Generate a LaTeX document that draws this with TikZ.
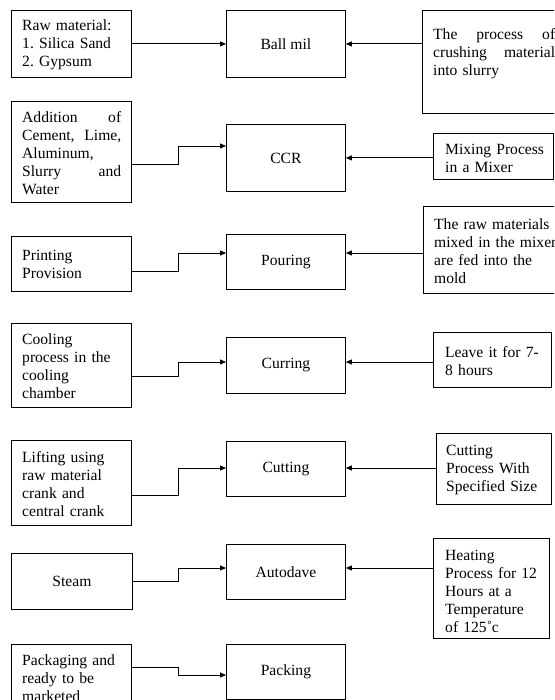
\documentclass[tikz,border=0pt]{standalone}
\usepackage{fontspec}
\setmainfont{Liberation Serif}
\usetikzlibrary{arrows.meta}
\newcommand\diagfont{\fontsize{15.6}{18}\selectfont\frenchspacing}
\begin{document}
\begin{tikzpicture}[x=1pt,y=-1pt,
  box/.style={draw, line width=0.85pt, inner sep=0pt, anchor=north west, font=\diagfont},
  cbox/.style={box, minimum width=119pt},
  txt/.style={inner sep=0pt, anchor=base west, align=left, font=\diagfont},
  arr/.style={line width=0.85pt, -{Triangle[length=6pt,width=5pt]}}]
\useasboundingbox (0,0) rectangle (554,700);
\clip (0,0) rectangle (554,700);
% left boxes
\node[box, minimum width=120pt, minimum height=67pt] (l1) at (11,10) {};
\node[box, minimum width=120pt, minimum height=101pt] (l2) at (11,101) {};
\node[box, minimum width=120pt, minimum height=55pt] (l3) at (11,236) {};
\node[box, minimum width=120pt, minimum height=84pt] (l4) at (11,323) {};
\node[box, minimum width=120pt, minimum height=85pt] (l5) at (11,440) {};
\node[box, minimum width=121pt, minimum height=56pt] (l6) at (11,553) {Steam};
\node[box, minimum width=120pt, minimum height=80pt] (l7) at (11,644) {};
% centre boxes
\node[cbox, minimum height=67pt] (c1) at (226,10) {Ball mil};
\node[cbox, minimum height=67pt] (c2) at (226,124) {CCR};
\node[cbox, minimum height=55pt] (c3) at (226,234) {Pouring};
\node[cbox, minimum height=56pt] (c4) at (226,337) {Curring};
\node[cbox, minimum height=55pt] (c5) at (226,441) {Cutting};
\node[cbox, minimum height=55pt] (c6) at (226,544) {Autodave};
\node[cbox, minimum height=55pt] (c7) at (226,644) {Packing};
% right boxes
\node[box, minimum width=144pt, minimum height=103pt] (r1) at (422,10) {};
\node[box, minimum width=120pt, minimum height=46pt] (r2) at (433,133) {};
\node[box, minimum width=144pt, minimum height=87pt] (r3) at (423,206) {};
\node[box, minimum width=118pt, minimum height=55pt] (r4) at (433,332) {};
\node[box, minimum width=115pt, minimum height=71pt] (r5) at (436,433) {};
\node[box, minimum width=116pt, minimum height=100pt] (r6) at (433,538) {};
% texts
\node[txt, text width=99pt] (t1) at (22,31) {Raw material:\\1. Silica Sand\\2. Gypsum};
\node[txt, text width=99pt] (t2) at (22,122.5) {Addition\hfill of\\Cement,\hfill Lime,\\Aluminum,\\Slurry\hfill and\\Water};
\node[txt, text width=99pt] (t3) at (22,260.5) {Printing\\Provision};
\node[txt, text width=99pt] (t4) at (22,344) {Cooling\\process in the\\cooling\\chamber};
\node[txt, text width=99pt] (t5) at (22,462) {Lifting using\\raw material\\crank and\\central crank};
\node[txt, text width=99pt] (t7) at (22,665) {Packaging and\\ready to be\\marketed};
\node[txt, text width=122pt] (s1) at (433,40) {The\hfill process\hfill of\\crushing\hfill material\\into slurry};
\node[txt, text width=105pt] (s2) at (445,155) {Mixing Process\\in a Mixer};
\node[txt, text width=130pt] (s3) at (434,229.5) {The raw materials\\mixed in the mixer\\are fed into the\\mold};
\node[txt, text width=105pt] (s4) at (445,357) {Leave it for 7-\\8 hours};
\node[txt, text width=105pt] (s5) at (446,455) {Cutting\\Process With\\Specified Size};
\node[txt, text width=105pt] (s6) at (445,560) {Heating\\Process for 12\\Hours at a\\Temperature\\of 125˚c};
% connectors
\draw[arr] (l1.east) -- (c1.west);
\draw[arr] (r1.west |- c1.east) -- (c1.east);
\draw[arr] (l2.east |- 0,164) -| (178,146) -- (c2.west |- 0,146);
\draw[arr] (r2.west |- c2.east) -- (c2.east);
\draw[arr] (l3.east |- 0,271) -| (178,253) -- (c3.west |- 0,253);
\draw[arr] (r3.west |- 0,253) -- (c3.east |- 0,253);
\draw[arr] (l4.east |- 0,376) -| (178,362) -- (c4.west |- 0,362);
\draw[arr] (r4.west |- 0,362) -- (c4.east |- 0,362);
\draw[arr] (l5.east |- 0,495) -| (178,468) -- (c5.west |- 0,468);
\draw[arr] (r5.west |- 0,468) -- (c5.east |- 0,468);
\draw[arr] (l6.east |- 0,581) -| (178,568) -- (c6.west |- 0,568);
\draw[arr] (r6.west |- 0,568) -- (c6.east |- 0,568);
\draw[arr] (l7.east |- 0,667) -| (178,675) -- (c7.west |- 0,675);
\end{tikzpicture}
\end{document}
